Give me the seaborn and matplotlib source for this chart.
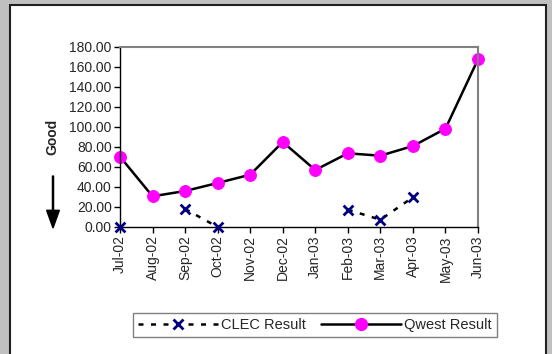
import numpy as np
import pandas as pd
import seaborn as sns
import matplotlib.pyplot as plt
from matplotlib.lines import Line2D
from matplotlib.patches import Rectangle, FancyArrow

# data
months = ["Jul-02", "Aug-02", "Sep-02", "Oct-02", "Nov-02", "Dec-02",
          "Jan-03", "Feb-03", "Mar-03", "Apr-03", "May-03", "Jun-03"]
qwest = [70.3, 30.7, 36.0, 44.0, 52.3, 85.0, 57.0, 73.7, 71.3, 81.0, 98.3, 167.7]
clec = [0.0, np.nan, 18.0, 0.0, np.nan, np.nan, np.nan, 17.3, 7.3, 29.7, np.nan, np.nan]
yticks = [0, 20, 40, 60, 80, 100, 120, 140, 160, 180]

sns.set_style("white")
plt.rcParams['font.family'] = ['Liberation Sans', 'DejaVu Sans']

idx = np.arange(len(months))
df_q = pd.DataFrame({"x": idx, "y": qwest})
df_c = pd.DataFrame({"x": idx, "y": clec})
# segment id so gaps stay unconnected
df_c["seg"] = df_c["y"].isna().cumsum()
df_c = df_c.dropna()

fig = plt.figure(figsize=(5.52, 3.54), dpi=100)
fig.patch.set_facecolor("#c0c0c0")
fig.patches.append(Rectangle((10 / 552, -0.02), 536 / 552, 1 - 5 / 354 + 0.02,
                             transform=fig.transFigure, facecolor="white",
                             edgecolor="#202020", linewidth=1.5, zorder=-5))

ax = fig.add_axes([120 / 552, 1 - 227 / 354, 358 / 552, 180 / 354])
ax.set_zorder(3)
ax.set_facecolor("white")

sns.lineplot(data=df_c, x="x", y="y", units="seg", estimator=None, color="black",
             linewidth=1.8, dashes=False, ax=ax, clip_on=False)
for ln in ax.lines:
    ln.set_linestyle((0, (2, 3)))
sns.scatterplot(data=df_c, x="x", y="y", marker="x", color="#000080", s=50,
                linewidth=2, ax=ax, clip_on=False, zorder=5)
sns.lineplot(data=df_q, x="x", y="y", color="black", linewidth=1.8, ax=ax,
             marker="o", markersize=8.5, markerfacecolor="#ff00ff",
             markeredgecolor="#ff00ff", clip_on=False)

ax.set_xlim(0, len(months) - 1)
ax.set_ylim(0, 180)
ax.set_xticks(idx)
ax.set_xticklabels(months, rotation=90, fontsize=10)
ax.set_yticks(yticks)
ax.set_yticklabels([f"{v:.2f}" for v in yticks], fontsize=10)
ax.tick_params(axis="both", direction="out", length=4, width=1, color="black",
               bottom=True, left=True, pad=2)
ax.set_xlabel("")
ax.set_ylabel("")
for side in ["left", "bottom"]:
    ax.spines[side].set_color("black")
    ax.spines[side].set_linewidth(1)
for side in ["top", "right"]:
    ax.spines[side].set_color("#808080")
    ax.spines[side].set_linewidth(1.5)

fig.text(52 / 552, 1 - 137 / 354, "Good", rotation=90, fontsize=10,
         fontweight="bold", ha="center", va="center")
fig.patches.append(FancyArrow(
    53 / 552, 1 - 176 / 354, 0, -52 / 354, width=0.002, head_width=0.023,
    head_length=0.05, length_includes_head=True, color="black",
    transform=fig.transFigure))

handles = [
    Line2D([], [], color="black", linestyle=(0, (2, 3)), linewidth=1.8,
           marker="x", markeredgecolor="#000080", markersize=7.5, markeredgewidth=2),
    Line2D([], [], color="black", linewidth=1.8, marker="o",
           markerfacecolor="#ff00ff", markeredgecolor="#ff00ff", markersize=8.5),
]
leg = fig.legend(handles, ["CLEC Result", "Qwest Result"], ncol=2,
                 loc="center", bbox_to_anchor=(315 / 552, 1 - 325 / 354),
                 frameon=True, fancybox=False, fontsize=10.5, handlelength=5.5,
                 columnspacing=1.0, handletextpad=0.2, borderpad=0.35)
leg.get_frame().set_edgecolor("#606060")
leg.get_frame().set_linewidth(1)

fig.savefig("out.png", dpi=100)
